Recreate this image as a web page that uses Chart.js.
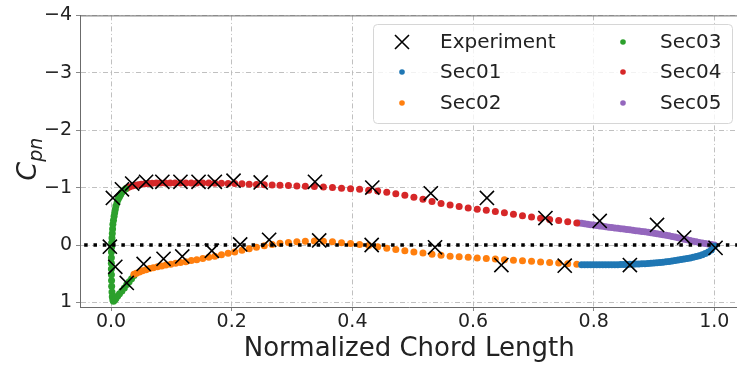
<!DOCTYPE html>
<html>
<head>
<meta charset="utf-8">
<script src="https://cdn.jsdelivr.net/npm/chart.js@4/dist/chart.umd.min.js"></script>
<style>
  html, body { margin: 0; padding: 0; background: #fff; overflow: hidden; }
  #wrap { width: 737px; height: 367px; overflow: hidden; }
</style>
</head>
<body>
<div id="wrap"><canvas id="cpChart" width="750" height="367"></canvas></div>
<script>
/* ================= DATA ================= */

const seriesLabels = ["Experiment", "Sec01", "Sec02", "Sec03", "Sec04", "Sec05"];
const xTicks = [0.0, 0.2, 0.4, 0.6, 0.8, 1.0];
const yTicks = [-4, -3, -2, -1, 0, 1];

// experiment (upper surface then lower surface)
const expX = [0.003, 0.018, 0.035, 0.058, 0.085, 0.115, 0.145, 0.172, 0.203, 0.248, 0.338, 0.433, 0.53, 0.623, 0.72, 0.81, 0.905, 0.95, 1.002,
              -0.002, 0.007, 0.026, 0.054, 0.087, 0.118, 0.167, 0.214, 0.262, 0.345, 0.432, 0.537, 0.647, 0.752, 0.86];
const expCp = [-0.82, -0.97, -1.07, -1.1, -1.1, -1.1, -1.1, -1.1, -1.12, -1.09, -1.1, -1.0, -0.9, -0.82, -0.47, -0.42, -0.35, -0.13, 0.05,
               0.03, 0.38, 0.66, 0.33, 0.24, 0.2, 0.1, -0.01, -0.09, -0.08, 0.0, 0.04, 0.35, 0.36, 0.35];

// Sec01 - lower trailing part
const sec01X = [0.78, 0.785, 0.79, 0.795, 0.80, 0.805, 0.81, 0.815, 0.82, 0.825, 0.83, 0.835, 0.84, 0.845, 0.85, 0.855, 0.86, 0.865, 0.87, 0.875,
                0.88, 0.885, 0.89, 0.895, 0.90, 0.905, 0.91, 0.915, 0.92, 0.925, 0.93, 0.935, 0.94, 0.945, 0.95, 0.955, 0.96, 0.965, 0.97, 0.975,
                0.98, 0.985, 0.99, 0.995, 1.0];
const sec01Cp = [0.345, 0.345, 0.345, 0.345, 0.345, 0.345, 0.345, 0.345, 0.345, 0.345, 0.344, 0.343, 0.342, 0.341, 0.34, 0.338, 0.337, 0.335, 0.333, 0.33,
                 0.328, 0.325, 0.322, 0.318, 0.315, 0.31, 0.305, 0.299, 0.293, 0.287, 0.28, 0.272, 0.263, 0.254, 0.245, 0.235, 0.225, 0.213, 0.2, 0.185,
                 0.168, 0.148, 0.12, 0.085, 0.02];

// Sec02 - lower surface
const sec02X = [0.038, 0.042, 0.047, 0.052, 0.058, 0.064, 0.07, 0.077, 0.084, 0.091, 0.099, 0.107, 0.115, 0.124, 0.133, 0.142, 0.152, 0.162, 0.172, 0.183,
                0.194, 0.205, 0.217, 0.229, 0.241, 0.254, 0.267, 0.28, 0.294, 0.308, 0.322, 0.337, 0.352, 0.367, 0.382, 0.397, 0.412, 0.427, 0.442, 0.457,
                0.472, 0.487, 0.502, 0.517, 0.532, 0.547, 0.562, 0.577, 0.592, 0.607, 0.622, 0.637, 0.652, 0.667, 0.682, 0.697, 0.712, 0.727, 0.742, 0.757, 0.772];
const sec02Cp = [0.51, 0.49, 0.47, 0.45, 0.43, 0.41, 0.395, 0.38, 0.365, 0.35, 0.335, 0.32, 0.305, 0.29, 0.27, 0.255, 0.235, 0.215, 0.195, 0.17,
                 0.145, 0.12, 0.09, 0.065, 0.04, 0.015, -0.01, -0.03, -0.045, -0.055, -0.065, -0.07, -0.065, -0.055, -0.04, -0.025, -0.01, 0.01, 0.03, 0.055,
                 0.08, 0.1, 0.12, 0.14, 0.16, 0.18, 0.195, 0.205, 0.215, 0.225, 0.235, 0.245, 0.255, 0.265, 0.275, 0.285, 0.295, 0.305, 0.315, 0.325, 0.335];

// Sec03 - leading edge
const sec03X = [0.024, 0.021, 0.018, 0.016, 0.014, 0.012, 0.010, 0.008, 0.007, 0.006, 0.005, 0.004, 0.003, 0.0025, 0.002, 0.0015, 0.001, 0.0008, 0.0006, 0.0005,
                0.0005, 0.0005, 0.0006, 0.0008, 0.001, 0.0015, 0.002, 0.003, 0.004, 0.006, 0.008, 0.011, 0.014, 0.018, 0.022, 0.026, 0.030, 0.034, 0.038];
const sec03Cp = [-0.98, -0.95, -0.92, -0.88, -0.84, -0.8, -0.74, -0.68, -0.62, -0.56, -0.5, -0.43, -0.36, -0.28, -0.2, -0.12, -0.04, 0.04, 0.12, 0.22,
                 0.32, 0.42, 0.52, 0.62, 0.72, 0.82, 0.9, 0.96, 0.98, 0.96, 0.93, 0.89, 0.85, 0.8, 0.75, 0.69, 0.64, 0.59, 0.53];

// Sec04 - upper surface
const sec04X = [0.026, 0.03, 0.035, 0.04, 0.045, 0.05, 0.056, 0.062, 0.068, 0.075, 0.082, 0.09, 0.098, 0.106, 0.115, 0.124, 0.133, 0.142, 0.152, 0.162,
                0.172, 0.183, 0.194, 0.205, 0.217, 0.229, 0.241, 0.254, 0.267, 0.28, 0.294, 0.308, 0.322, 0.337, 0.352, 0.367, 0.382, 0.397, 0.412, 0.427,
                0.442, 0.457, 0.472, 0.487, 0.502, 0.517, 0.532, 0.547, 0.562, 0.577, 0.592, 0.607, 0.622, 0.637, 0.652, 0.667, 0.682, 0.697, 0.712, 0.727,
                0.742, 0.757, 0.772];
const sec04Cp = [-0.99, -1.01, -1.03, -1.04, -1.05, -1.06, -1.065, -1.07, -1.075, -1.08, -1.08, -1.08, -1.08, -1.08, -1.08, -1.08, -1.08, -1.08, -1.08, -1.08,
                 -1.075, -1.075, -1.07, -1.07, -1.065, -1.06, -1.055, -1.05, -1.045, -1.04, -1.035, -1.03, -1.025, -1.02, -1.01, -1.0, -0.99, -0.98, -0.97, -0.955,
                 -0.94, -0.92, -0.895, -0.865, -0.83, -0.795, -0.76, -0.725, -0.695, -0.67, -0.645, -0.625, -0.605, -0.585, -0.56, -0.535, -0.51, -0.49, -0.465, -0.445,
                 -0.425, -0.405, -0.385];

// Sec05 - upper trailing part
const sec05X = [0.775, 0.78, 0.785, 0.79, 0.795, 0.80, 0.805, 0.81, 0.815, 0.82, 0.825, 0.83, 0.835, 0.84, 0.845, 0.85, 0.855, 0.86, 0.865, 0.87,
                0.875, 0.88, 0.885, 0.89, 0.895, 0.90, 0.905, 0.91, 0.915, 0.92, 0.925, 0.93, 0.935, 0.94, 0.945, 0.95, 0.955, 0.96, 0.965, 0.97,
                0.975, 0.98, 0.985, 0.99, 0.995, 1.0];
const sec05Cp = [-0.385, -0.378, -0.37, -0.362, -0.355, -0.348, -0.34, -0.333, -0.325, -0.318, -0.31, -0.304, -0.297, -0.29, -0.284, -0.277, -0.27, -0.264, -0.257, -0.25,
                 -0.243, -0.236, -0.229, -0.222, -0.214, -0.206, -0.198, -0.189, -0.18, -0.17, -0.16, -0.149, -0.138, -0.127, -0.115, -0.102, -0.09, -0.078, -0.066, -0.055,
                 -0.045, -0.035, -0.025, -0.016, -0.008, 0.0];

// Cp = 0 reference line
const zeroX = [-0.06, 1.06];
const zeroCp = [0, 0];

const secColors = ["#1f77b4", "#ff7f0e", "#2ca02c", "#d62728", "#9467bd"];

/* ================= HELPERS ================= */

const pts = (xs, ys) => xs.map((x, i) => ({ x, y: ys[i] }));
const fmtY = v => (v < 0 ? "\u2212" + Math.abs(v) : String(v));
const FONT = "'DejaVu Sans', sans-serif";
const PLOT_RIGHT = 737;   // right edge of the axes (figure is cut there)

function secDataset(label, xs, ys, color) {
    return {
        label,
        data: pts(xs, ys),
        showLine: false,
        pointStyle: "circle",
        pointRadius: 3.5,
        pointBackgroundColor: color,
        pointBorderWidth: 0,
        order: 3,
    };
}

/* ================= PLUGINS ================= */

// top spine + matplotlib-like legend + C_pn label
const decorPlugin = {
    id: "decor",
    afterDraw(chart) {
        const ctx = chart.ctx;
        const a = chart.chartArea;

        // top spine
        ctx.save();
        ctx.strokeStyle = "#6b6b6b";
        ctx.lineWidth = 1;
        ctx.beginPath();
        ctx.moveTo(a.left, a.top + 0.5);
        ctx.lineTo(a.right, a.top + 0.5);
        ctx.stroke();
        ctx.restore();

        // legend box
        const bx = 373, by = 24, bw = 359, bh = 99;
        ctx.save();
        ctx.beginPath();
        ctx.roundRect(bx + 0.5, by + 0.5, bw, bh, 4);
        ctx.fillStyle = "rgba(255,255,255,0.8)";
        ctx.fill();
        ctx.strokeStyle = "#d6d6d6";
        ctx.lineWidth = 1;
        ctx.stroke();

        const ds = chart.data.datasets.filter(d => seriesLabels.includes(d.label));
        const rows = [42, 72, 103];
        ds.forEach((d, i) => {
            const col = Math.floor(i / 3);
            const mx = col === 0 ? 402 : 623;
            const tx = col === 0 ? 440 : 660;
            const my = rows[i % 3];
            if (d.label === "Experiment") {
                ctx.strokeStyle = "#000";
                ctx.lineWidth = 1.6;
                ctx.beginPath();
                ctx.moveTo(mx - 7, my - 7);
                ctx.lineTo(mx + 7, my + 7);
                ctx.moveTo(mx + 7, my - 7);
                ctx.lineTo(mx - 7, my + 7);
                ctx.stroke();
            } else {
                ctx.fillStyle = d.pointBackgroundColor;
                ctx.beginPath();
                ctx.arc(mx, my, 2.8, 0, Math.PI * 2);
                ctx.fill();
            }
            ctx.fillStyle = "#222";
            ctx.font = "20px " + FONT;
            ctx.textBaseline = "middle";
            ctx.textAlign = "left";
            ctx.fillText(d.label, tx, my + 1);
        });
        ctx.restore();

        // y label: C_pn
        ctx.save();
        ctx.translate(36, (a.top + a.bottom) / 2 - 2);
        ctx.rotate(-Math.PI / 2);
        ctx.fillStyle = "#222";
        ctx.textBaseline = "alphabetic";
        ctx.textAlign = "left";
        ctx.font = "italic 27px " + FONT;
        const wC = ctx.measureText("C").width;
        ctx.font = "italic 19px " + FONT;
        const wS = ctx.measureText("pn").width;
        const x0 = -(wC + wS) / 2;
        ctx.font = "italic 27px " + FONT;
        ctx.fillText("C", x0, 0);
        ctx.font = "italic 19px " + FONT;
        ctx.fillText("pn", x0 + wC, 6);
        ctx.restore();
    }
};

/* ================= CHART ================= */

const gridStyle = {
    color: "#b0b0b0",
    lineWidth: 0.8,
    tickLength: 4,
    tickColor: "#6b6b6b",
};
const gridBorder = { color: "#6b6b6b", width: 1, dash: [5, 2.5, 1, 2.5] };

const chart = new Chart(document.getElementById("cpChart"), {
    type: "scatter",
    data: {
        datasets: [
            {
                label: "Experiment",
                data: pts(expX, expCp),
                showLine: false,
                pointStyle: "crossRot",
                pointRadius: 10,
                pointBorderColor: "#000",
                pointBorderWidth: 1.6,
                order: 0,
            },
            secDataset("Sec01", sec01X, sec01Cp, secColors[0]),
            secDataset("Sec02", sec02X, sec02Cp, secColors[1]),
            secDataset("Sec03", sec03X, sec03Cp, secColors[2]),
            secDataset("Sec04", sec04X, sec04Cp, secColors[3]),
            secDataset("Sec05", sec05X, sec05Cp, secColors[4]),
            {
                label: "zero",
                type: "line",
                data: pts(zeroX, zeroCp),
                showLine: true,
                pointRadius: 0,
                borderColor: "#000",
                borderWidth: 3.5,
                borderDash: [3.5, 5.8],
                borderCapStyle: "butt",
                fill: false,
                order: 1,
            },
        ],
    },
    options: {
        responsive: false,
        animation: false,
        events: [],
        layout: { padding: { top: 14, right: 0, left: 0, bottom: 0 } },
        plugins: {
            legend: { display: false },
            tooltip: { enabled: false },
        },
        scales: {
            x: {
                type: "linear",
                min: -0.0515,
                max: 1.0399,
                afterBuildTicks: s => { s.ticks = xTicks.map(v => ({ value: v })); },
                afterFit: s => { s.height = 60; },
                ticks: {
                    color: "#222",
                    font: { family: FONT, size: 19 },
                    padding: 0,
                    maxRotation: 0,
                    callback: v => Number(v).toFixed(1),
                },
                grid: gridStyle,
                border: gridBorder,
                title: {
                    display: true,
                    text: "Normalized Chord Length",
                    color: "#222",
                    font: { family: FONT, size: 26 },
                    padding: { top: 0, bottom: 2 },
                },
            },
            y: {
                type: "linear",
                reverse: true,
                min: -4,
                max: 1.08,
                afterBuildTicks: s => { s.ticks = yTicks.map(v => ({ value: v })); },
                afterFit: s => { s.width = 80; },
                ticks: {
                    color: "#222",
                    font: { family: FONT, size: 19 },
                    padding: 4,
                    callback: v => fmtY(v),
                },
                grid: gridStyle,
                border: gridBorder,
            },
        },
    },
    plugins: [decorPlugin],
});

// the canvas is a little wider than the window so that the axes run to its edge;
// trim any leftover so the right edge sits at PLOT_RIGHT
const extra = chart.chartArea.right - PLOT_RIGHT;
if (Math.abs(extra) > 0.5) {
    chart.options.layout.padding.right = Math.max(0, extra);
    chart.update("none");
}
</script>
</body>
</html>
